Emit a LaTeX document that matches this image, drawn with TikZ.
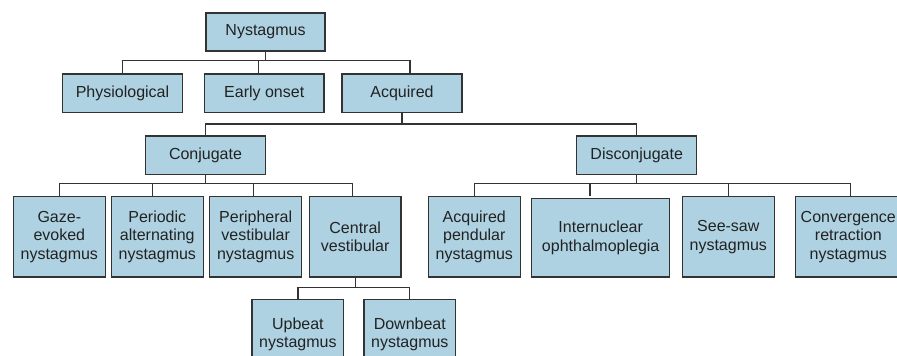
\documentclass[tikz,border=0pt]{standalone}
\usepackage{fontspec}
\setmainfont{Liberation Sans}
\definecolor{boxfill}{HTML}{AED2E2}
\definecolor{boxline}{HTML}{333333}
\definecolor{txt}{HTML}{222222}
\begin{document}
\begin{tikzpicture}[x=1pt,y=-1pt,
  bx/.style={draw=boxline, fill=boxfill, line width=1.3pt, rectangle, inner sep=0pt,
    align=center, text=txt, font=\fontsize{16}{18.6}\selectfont},
  ln/.style={draw=boxline, line width=1.2pt}]
\useasboundingbox (0,0) rectangle (897,356);
\clip (0,0) rectangle (897,356);
% level 0
\node[bx, minimum width=119pt, minimum height=38pt] (nys) at (265.5,32) {Nystagmus};
% level 1
\node[bx, minimum width=119.6pt, minimum height=38.7pt] (phys) at (122.5,93.3) {Physiological};
\node[bx, minimum width=119.7pt, minimum height=38.7pt] (early) at (264.2,93.3) {Early onset};
\node[bx, minimum width=120pt, minimum height=38.7pt] (acq) at (402,93.3) {Acquired};
% level 2
\node[bx, minimum width=119.6pt, minimum height=38.3pt] (conj) at (205.5,155.2) {Conjugate};
\node[bx, minimum width=120pt, minimum height=38.3pt] (disc) at (636.7,155.2) {Disconjugate};
% level 3
\node[bx, minimum width=92pt, minimum height=80.3pt] (gaze) at (59.3,236.8) {Gaze-\\evoked\\nystagmus};
\node[bx, minimum width=92pt, minimum height=80.3pt] (peri) at (157.3,236.8) {Periodic\\alternating\\nystagmus};
\node[bx, minimum width=92pt, minimum height=80.3pt] (perv) at (255.7,236.8) {Peripheral\\vestibular\\nystagmus};
\node[bx, minimum width=91.7pt, minimum height=80.3pt] (cent) at (355.2,236.8) {Central\\vestibular};
\node[bx, minimum width=92pt, minimum height=80.3pt] (apen) at (474.3,236.8) {Acquired\\pendular\\nystagmus};
\node[bx, minimum width=138pt, minimum height=78.3pt] (inter) at (600.7,237.8) {Internuclear\\ophthalmoplegia};
\node[bx, minimum width=92pt, minimum height=80.3pt] (see) at (728.3,236.8) {See-saw\\nystagmus};
\node[bx, minimum width=105.2pt, minimum height=80.3pt] (conv) at (848.3,236.8) {Convergence\\retraction\\nystagmus};
% level 4
\node[bx, minimum width=91.7pt, minimum height=70pt] (up) at (297.9,334.3) {Upbeat\\nystagmus};
\node[bx, minimum width=91.7pt, minimum height=70pt] (down) at (409.8,334.3) {Downbeat\\nystagmus};
% bus coordinates
\coordinate (bus1) at (0,60.7);
\coordinate (bus2) at (0,124);
\coordinate (bus3) at (0,183.6);
\coordinate (bus4) at (0,287.7);
% drop points
\coordinate (earlyd) at ([xshift=-6pt]early.north);
\coordinate (acqd) at ([xshift=8pt]acq.north);
\coordinate (perid) at ([xshift=-4.6pt]peri.north);
\coordinate (perd) at ([xshift=-2.4pt]perv.north);
\coordinate (centd) at ([xshift=-2.5pt]cent.north);
\coordinate (interd) at ([xshift=-10.7pt,yshift=2pt]inter.north);
\coordinate (convd) at ([xshift=2.4pt]conv.north);
% Nystagmus
\draw[ln] (nys.south) -- (nys.south |- bus1);
\draw[ln] (phys.north) -- (phys.north |- bus1) -- (acqd |- bus1) -- (acqd);
\draw[ln] (earlyd) -- (earlyd |- bus1);
% Acquired
\draw[ln] (acq.south) -- (acq.south |- bus2);
\draw[ln] (conj.north) -- (conj.north |- bus2) -- (disc.north |- bus2) -- (disc.north);
% Conjugate
\draw[ln] (conj.south) -- (conj.south |- bus3);
\draw[ln] (gaze.north) -- (gaze.north |- bus3) -- (centd |- bus3) -- (centd);
\draw[ln] (perid) -- (perid |- bus3);
\draw[ln] (perd) -- (perd |- bus3);
% Disconjugate
\draw[ln] (disc.south) -- (disc.south |- bus3);
\draw[ln] (apen.north) -- (apen.north |- bus3) -- (convd |- bus3) -- (convd);
\draw[ln] (interd) -- (interd |- bus3);
\draw[ln] (see.north) -- (see.north |- bus3);
% Central vestibular
\draw[ln] (cent.south) -- (cent.south |- bus4);
\draw[ln] (up.north) -- (up.north |- bus4) -- (down.north |- bus4) -- (down.north);
\end{tikzpicture}
\end{document}
